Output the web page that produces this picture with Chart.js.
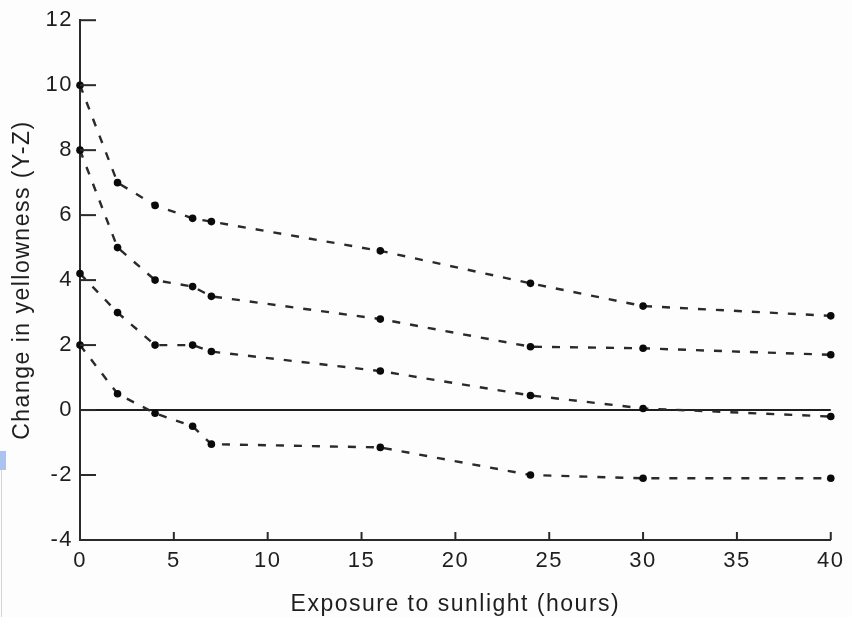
<!DOCTYPE html>
<html>
<head>
<meta charset="utf-8">
<script src="https://cdn.jsdelivr.net/npm/chart.js@4/dist/chart.umd.min.js"></script>
<style>
  html, body { margin: 0; padding: 0; background: #fdfdfd; }
  #wrap { position: relative; width: 852px; height: 617px; }
  #blue { position: absolute; left: 0; top: 451px; width: 6px; height: 19px; background: #aac4ef; }
  #edge { position: absolute; left: 1px; top: 470px; width: 1px; height: 147px; background: #d4d4d4; }
</style>
</head>
<body>
<div id="wrap">
  <canvas id="c"></canvas>
  <div id="blue"></div>
  <div id="edge"></div>
</div>
<script>
// ---- data ----
const hours = [0, 2, 4, 6, 7, 16, 24, 30, 40];
const seriesA = [10, 7, 6.3, 5.9, 5.8, 4.9, 3.9, 3.2, 2.9];
const seriesB = [8, 5, 4, 3.8, 3.5, 2.8, 1.95, 1.9, 1.7];
const seriesC = [4.2, 3, 2, 2, 1.8, 1.2, 0.45, 0.05, -0.2];
const seriesD = [2, 0.5, -0.1, -0.5, -1.05, -1.15, -2, -2.1, -2.1];
const xTicks = [0, 5, 10, 15, 20, 25, 30, 35, 40];
const yTicks = [-4, -2, 0, 2, 4, 6, 8, 10, 12];
const xTitle = 'Exposure to sunlight (hours)';
const yTitle = 'Change in yellowness (Y-Z)';

const FONT = "'Liberation Sans', Arial, Helvetica, sans-serif";
const toPts = arr => arr.map((v, i) => ({ x: hours[i], y: v }));

function ds(arr) {
  return {
    data: toPts(arr),
    showLine: true,
    borderColor: '#2a2a2a',
    borderWidth: 2.4,
    borderDash: [8, 10],
    tension: 0,
    pointRadius: 3.8,
    pointBackgroundColor: '#0a0a0a',
    pointBorderColor: '#0a0a0a',
    pointBorderWidth: 0,
    clip: false
  };
}

const spacing = {
  id: 'spacing',
  beforeDraw(chart) { chart.ctx.letterSpacing = '1.5px'; }
};

const innerTicks = {
  id: 'innerTicks',
  afterDraw(chart) {
    const ctx = chart.ctx;
    const xs = chart.scales.x, ys = chart.scales.y;
    ctx.save();
    ctx.strokeStyle = '#2a2a2a';
    ctx.lineWidth = 2;
    ys.ticks.forEach(t => {
      const py = ys.getPixelForValue(t.value);
      ctx.beginPath();
      ctx.moveTo(xs.left, py);
      ctx.lineTo(xs.left + 16, py);
      ctx.stroke();
    });
    xs.ticks.forEach(t => {
      const px = xs.getPixelForValue(t.value);
      ctx.beginPath();
      ctx.moveTo(px, ys.bottom);
      ctx.lineTo(px, ys.bottom - 8);
      ctx.stroke();
    });
    ctx.restore();
  }
};

new Chart(document.getElementById('c'), {
  type: 'scatter',
  data: { datasets: [ds(seriesA), ds(seriesB), ds(seriesC), ds(seriesD)] },
  options: {
    responsive: true,
    maintainAspectRatio: false,
    animation: false,
    layout: { padding: { top: 19, right: 15, left: 0, bottom: 0 } },
    plugins: { legend: { display: false }, tooltip: { enabled: false } },
    scales: {
      x: {
        type: 'linear',
        min: 0, max: 40,
        afterBuildTicks: s => { s.ticks = xTicks.map(v => ({ value: v })); },
        afterFit: s => { s.height = 77; },
        border: { display: true, color: '#2a2a2a', width: 2 },
        grid: { display: false, drawTicks: false },
        ticks: { color: '#1e1e1e', padding: 9, font: { family: FONT, size: 22, lineHeight: 1.1 }, maxRotation: 0 },
        title: { display: true, text: xTitle, color: '#1e1e1e', font: { family: FONT, size: 23, lineHeight: 1 }, padding: { top: 0, bottom: 1 } }
      },
      y: {
        type: 'linear',
        min: -4, max: 12,
        afterBuildTicks: s => { s.ticks = yTicks.map(v => ({ value: v })); },
        afterFit: s => { s.width = 80; },
        border: { display: true, color: '#2a2a2a', width: 2 },
        grid: {
          drawTicks: false,
          color: c => (c.tick && c.tick.value === 0) ? '#1e1e1e' : 'rgba(0,0,0,0)',
          lineWidth: c => (c.tick && c.tick.value === 0) ? 2 : 0
        },
        ticks: { color: '#1e1e1e', padding: 7, font: { family: FONT, size: 22 } },
        title: { display: true, text: yTitle, color: '#1e1e1e', font: { family: FONT, size: 23, lineHeight: 1 }, padding: { top: 11, bottom: 0 } }
      }
    }
  },
  plugins: [spacing, innerTicks]
});
</script>
</body>
</html>
